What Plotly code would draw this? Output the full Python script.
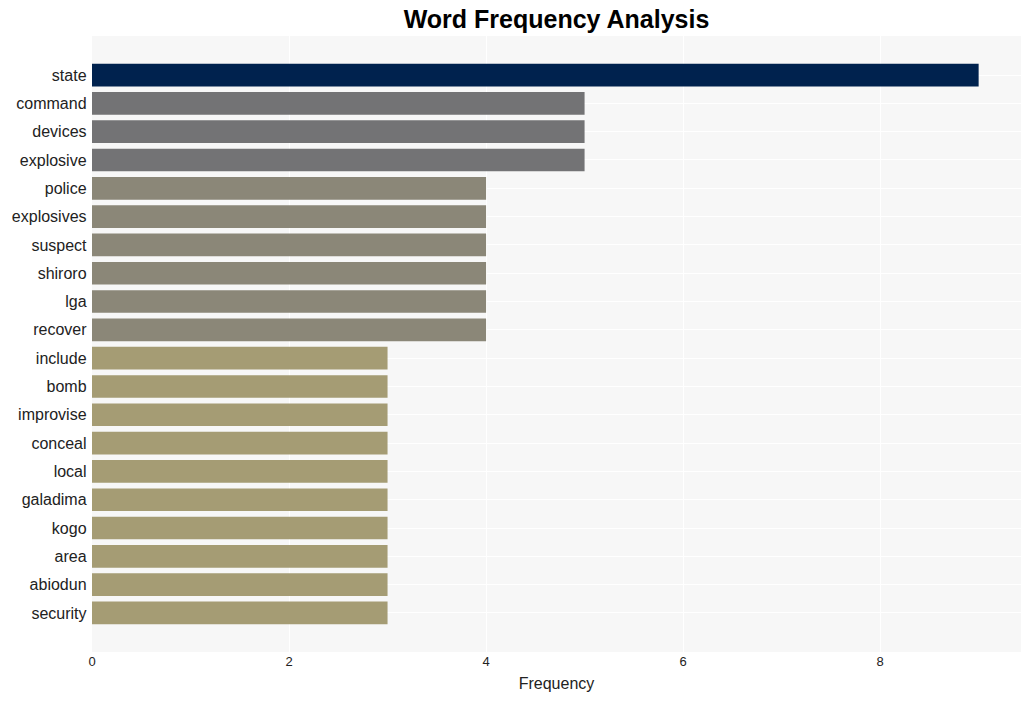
import plotly.graph_objects as go

words = ["state", "command", "devices", "explosive", "police", "explosives", "suspect",
         "shiroro", "lga", "recover", "include", "bomb", "improvise", "conceal", "local",
         "galadima", "kogo", "area", "abiodun", "security"]
freqs = [9, 5, 5, 5, 4, 4, 4, 4, 4, 4, 3, 3, 3, 3, 3, 3, 3, 3, 3, 3]
color_map = {9: "#00224e", 5: "#737375", 4: "#8b8778", 3: "#a59c74"}
colors = [color_map[f] for f in freqs]

fig = go.Figure(go.Bar(
    x=freqs, y=words, orientation="h",
    marker=dict(color=colors, line=dict(width=0)),
    width=0.8,
))

fig.update_layout(
    width=1032, height=701,
    margin=dict(l=92, r=11, t=36, b=49),
    paper_bgcolor="white",
    plot_bgcolor="#f7f7f7",
    font=dict(family="Arial, Liberation Sans, sans-serif", color="#222222"),
    title=dict(text="<b>Word Frequency Analysis</b>", x=0.5, xref="paper",
               y=0.972, yref="container", yanchor="middle",
               font=dict(size=25, color="black")),
    xaxis=dict(title=dict(text="Frequency", font=dict(size=16), standoff=9),
               tickfont=dict(size=13), gridcolor="white", gridwidth=1,
               zeroline=False, tickvals=[0, 2, 4, 6, 8], range=[0, 9.43],
               automargin=False),
    yaxis=dict(tickfont=dict(size=16), gridcolor="white", gridwidth=1,
               autorange=False, range=[20.38, -1.38], categoryorder="array",
               categoryarray=words, ticksuffix=" ", automargin=False),
    showlegend=False,
    bargap=0.2,
)

fig.write_html("out.html")
